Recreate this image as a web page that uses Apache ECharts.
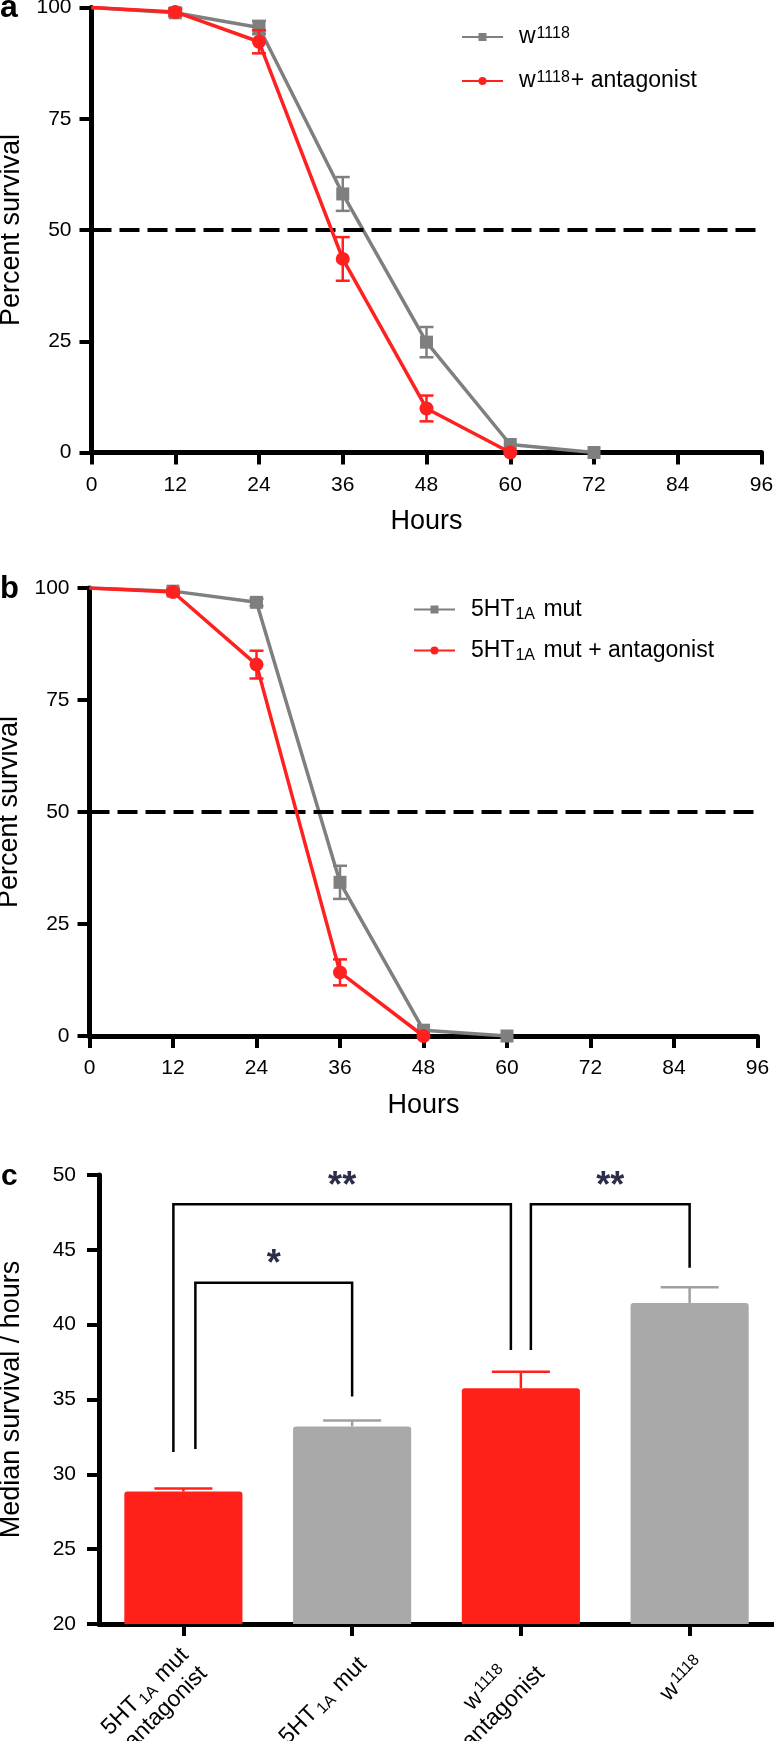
<!DOCTYPE html>
<html><head><meta charset="utf-8">
<script src="https://cdn.jsdelivr.net/npm/echarts@6/dist/echarts.min.js"></script>
<style>html,body{margin:0;padding:0;background:#fff}#c{width:774px;height:1741px}</style>
</head><body><div id="c"></div>
<script>
// ---------- DATA ----------
// Panel a
const hoursA_w = [0, 12, 24, 36, 48, 60, 72];
const survA_w = [100, 98.8, 95.5, 58.1, 24.8, 1.8, 0];
const errA_w = [0, 0.8, 1.5, 3.8, 3.4, 0, 0];
const hoursA_ant = [0, 12, 24, 36, 48, 60];
const survA_ant = [100, 99.0, 92.3, 43.5, 9.9, 0];
const errA_ant = [0, 0.8, 2.6, 4.9, 2.9, 0];
// Panel b
const hoursB_mut = [0, 12, 24, 36, 48, 60];
const survB_mut = [100, 99.3, 96.8, 34.3, 1.3, 0];
const errB_mut = [0, 0.5, 0.8, 3.7, 0, 0];
const hoursB_ant = [0, 12, 24, 36, 48];
const survB_ant = [100, 99.1, 82.9, 14.2, 0];
const errB_ant = [0, 0.5, 3.1, 2.9, 0];
// Panel c
const groupsC = ['5HT1A mut antagonist', '5HT1A mut', 'w1118 antagonist', 'w1118'];
const medianC = [28.85, 33.2, 35.75, 41.45];
const medianErrC = [0.2, 0.4, 1.1, 1.05];
// significance brackets: group indices, bracket top, leg ends, star label level
const sigFrom = [0, 2, 0];
const sigTo = [2, 3, 1];
const sigTop = [48.05, 48.05, 42.8];
const sigFromEnd = [31.5, 38.3, 31.7];
const sigToEnd = [38.3, 43.8, 35.2];
const sigLabelAt = [49.6, 49.6, 44.4];
const sigText = ['**', '**', '*'];
const refLine = 50;

// ---------- STYLE ----------
const FONT = '"Liberation Sans", Arial, sans-serif';
const GRAY = '#7f7f7f', RED = '#ff2020';
const BAR_COLORS = ['#ff2119', '#a9a9a9', '#ff2119', '#a9a9a9'];
const ERR_COLORS = ['#ff2119', '#a0a0a0', '#ff2119', '#a0a0a0'];
const STAR_COLOR = '#2b2d4a';
const legOffsetFrom = [-10, 10, 12];
const legOffsetTo = [-10, 0, 0];

const chart = echarts.init(document.getElementById('c'));

function pts(xs, ys) {
  return xs.map((x, i) => i === 0 ? { value: [x, ys[i]], symbol: 'none' } : { value: [x, ys[i]] });
}

function errSeries(xs, ys, es, color, gi, capHalf, onlyUp, z) {
  return {
    type: 'custom', xAxisIndex: gi, yAxisIndex: gi, silent: true, z: z,
    data: xs.map((x, i) => [x, ys[i], es[i]]),
    encode: { x: 0, y: 1 },
    renderItem: (params, api) => {
      const x = api.value(0), y = api.value(1), e = api.value(2);
      if (!e) return null;
      const c = Array.isArray(color) ? color[params.dataIndex] : color;
      const top = api.coord([x, y + e]);
      const bot = api.coord([x, onlyUp ? y : y - e]);
      const st = { stroke: c, lineWidth: 2.5 };
      const ch = [
        { type: 'line', shape: { x1: top[0], y1: top[1], x2: bot[0], y2: bot[1] }, style: st },
        { type: 'line', shape: { x1: top[0] - capHalf, y1: top[1], x2: top[0] + capHalf, y2: top[1] }, style: st }
      ];
      if (!onlyUp) ch.push({ type: 'line', shape: { x1: bot[0] - capHalf, y1: bot[1], x2: bot[0] + capHalf, y2: bot[1] }, style: st });
      return { type: 'group', children: ch };
    }
  };
}

const axisLineStyle = { color: '#000', width: 5 };
const tickStyle = { color: '#000', width: 4 };
const tickLabel = { color: '#000', fontSize: 21, fontFamily: FONT };
const nameStyle = { color: '#000', fontSize: 27, fontFamily: FONT };

function valX(gi) {
  return {
    type: 'value', gridIndex: gi, min: 0, max: 96, interval: 12,
    axisLine: { show: true, lineStyle: axisLineStyle },
    axisTick: { show: true, length: 12, lineStyle: tickStyle },
    axisLabel: Object.assign({ margin: 22 }, tickLabel),
    splitLine: { show: false },
    name: 'Hours', nameLocation: 'middle', nameGap: 56, nameTextStyle: nameStyle
  };
}
function valY(gi) {
  return {
    type: 'value', gridIndex: gi, min: 0, max: 100, interval: 25,
    axisLine: { show: true, lineStyle: axisLineStyle },
    axisTick: { show: true, length: 12, lineStyle: tickStyle },
    axisLabel: Object.assign({ margin: 20 }, tickLabel),
    splitLine: { show: false },
    name: 'Percent survival', nameLocation: 'middle', nameGap: 66, nameTextStyle: nameStyle
  };
}

function lineSeries(name, xs, ys, color, symbol, gi, z, withRef) {
  const s = {
    name: name, type: 'line', xAxisIndex: gi, yAxisIndex: gi, z: z,
    data: pts(xs, ys), symbol: symbol, symbolSize: symbol === 'rect' ? 13 : 14, showAllSymbol: true,
    lineStyle: { color: color, width: 3.5 }, itemStyle: { color: color },
    emphasis: { disabled: true }, animation: false
  };
  if (withRef) {
    s.markLine = {
      silent: true, symbol: 'none', label: { show: false },
      lineStyle: { color: '#000', width: 4, type: [20, 8] },
      data: [{ yAxis: refLine }]
    };
  }
  return s;
}

const richLegend = {
  n: { fontSize: 23, lineHeight: 26, fontFamily: FONT, color: '#000', verticalAlign: 'middle' },
  sup: { fontSize: 16, lineHeight: 16, fontFamily: FONT, color: '#000', verticalAlign: 'top', padding: [2, 1, 0, 1] },
  sub: { fontSize: 16, lineHeight: 16, fontFamily: FONT, color: '#000', verticalAlign: 'bottom', padding: [0, 2, 0, 1] }
};
function legendFmt(name) {
  return name
    .replace(/^w1118/, '{n|w}{sup|1118}')
    .replace(/^5HT1A/, '{n|5HT}{sub|1A}')
    .replace(/\}([^{}]+)$/, '}{n|$1}');
}
function mkLegend(name, left, top) {
  return {
    data: [name], left: left, top: top, padding: 0, itemGap: 0,
    itemWidth: 41, itemHeight: 10, selectedMode: false,
    formatter: legendFmt,
    textStyle: { rich: richLegend, padding: [0, 0, 0, 11] }
  };
}

const richCat = {
  n: { fontSize: 23, lineHeight: 26, fontFamily: FONT, color: '#000' },
  sub: { fontSize: 16, lineHeight: 15, fontFamily: FONT, color: '#000', verticalAlign: 'bottom', padding: [0, 2, 0, 3] },
  sup: { fontSize: 16, lineHeight: 15, fontFamily: FONT, color: '#000', verticalAlign: 'top', padding: [0, 0, 0, 2] },
  supPad: { fontSize: 16, lineHeight: 15, fontFamily: FONT, color: '#000', verticalAlign: 'top', padding: [0, 26, 0, 2] }
};
function catFmt(v) {
  const parts = v.split(' ');
  const two = parts.length > 1 && parts[parts.length - 1] === 'antagonist';
  let first = two ? parts.slice(0, -1).join(' ') : v;
  let out;
  if (first.startsWith('5HT1A')) out = '{n|5HT}{sub|1A}{n|' + first.slice(5) + '}';
  else out = '{n|w}{' + (two ? 'supPad' : 'sup') + '|' + first.slice(1) + '}';
  if (two) out += '\n{n|antagonist}';
  return out;
}

const option = {
  backgroundColor: '#fff',
  animation: false,
  textStyle: { fontFamily: FONT },
  grid: [
    { left: 91.5, right: 12.5, top: 7.5, height: 445, outerBoundsMode: 'none', containLabel: false },
    { left: 89.5, right: 16.5, top: 588, height: 448, outerBoundsMode: 'none', containLabel: false },
    { left: 99, right: 0, top: 1175, height: 449, outerBoundsMode: 'none', containLabel: false }
  ],
  xAxis: [
    valX(0), valX(1),
    {
      type: 'category', gridIndex: 2, data: groupsC,
      axisLine: { show: true, lineStyle: axisLineStyle },
      axisTick: { show: true, alignWithLabel: true, length: 12, lineStyle: tickStyle },
      axisLabel: { rotate: 45, margin: 26, interval: 0, padding: [31, 0, 0, 0], formatter: catFmt, rich: richCat, color: '#000' }
    }
  ],
  yAxis: [
    valY(0), valY(1),
    {
      type: 'value', gridIndex: 2, min: 20, max: 50, interval: 5,
      axisLine: { show: true, lineStyle: axisLineStyle },
      axisTick: { show: true, length: 12, lineStyle: tickStyle },
      axisLabel: { margin: 23, color: '#000', fontSize: 21, fontFamily: FONT },
      splitLine: { show: false },
      name: 'Median survival / hours', nameLocation: 'middle', nameGap: 74, nameTextStyle: nameStyle
    }
  ],
  legend: [
    mkLegend('w1118', 461, 24),
    mkLegend('w1118+ antagonist', 461, 68),
    mkLegend('5HT1A mut', 413, 598),
    mkLegend('5HT1A mut + antagonist', 413, 639)
  ],
  graphic: [
    { type: 'text', left: 0, top: -8, style: { text: 'a', font: 'bold 32px ' + FONT, fill: '#000' } },
    { type: 'text', left: 0, top: 574, style: { text: 'b', font: 'bold 31px ' + FONT, fill: '#000' } },
    { type: 'text', left: 1, top: 1162, style: { text: 'c', font: 'bold 30px ' + FONT, fill: '#000' } }
  ],
  series: [
    errSeries(hoursA_w, survA_w, errA_w, GRAY, 0, 7, false, 3),
    lineSeries('w1118', hoursA_w, survA_w, GRAY, 'rect', 0, 4, true),
    errSeries(hoursA_ant, survA_ant, errA_ant, RED, 0, 7, false, 5),
    lineSeries('w1118+ antagonist', hoursA_ant, survA_ant, RED, 'circle', 0, 6, false),

    errSeries(hoursB_mut, survB_mut, errB_mut, GRAY, 1, 7, false, 3),
    lineSeries('5HT1A mut', hoursB_mut, survB_mut, GRAY, 'rect', 1, 4, true),
    errSeries(hoursB_ant, survB_ant, errB_ant, RED, 1, 7, false, 5),
    lineSeries('5HT1A mut + antagonist', hoursB_ant, survB_ant, RED, 'circle', 1, 6, false),

    {
      type: 'bar', xAxisIndex: 2, yAxisIndex: 2, barWidth: '70%', z: 3,
      data: medianC.map((v, i) => ({ value: v, itemStyle: { color: BAR_COLORS[i], borderRadius: [3, 3, 0, 0] } })),
      emphasis: { disabled: true }
    },
    errSeries(groupsC.map((g, i) => i), medianC, medianErrC, ERR_COLORS, 2, 29, true, 2),
    {
      type: 'custom', xAxisIndex: 2, yAxisIndex: 2, silent: true, z: 6,
      data: sigFrom.map((f, i) => [f, sigTop[i], sigTo[i], sigFromEnd[i], sigToEnd[i], sigLabelAt[i]]),
      encode: { x: 0, y: 1 },
      renderItem: (params, api) => {
        const i = params.dataIndex;
        const f = api.value(0), top = api.value(1), t = api.value(2), fe = api.value(3), te = api.value(4), la = api.value(5);
        const pTopL = api.coord([f, top]), pTopR = api.coord([t, top]);
        const pFe = api.coord([f, fe]), pTe = api.coord([t, te]);
        const pLab = api.coord([f, la]);
        const xl = pTopL[0] + legOffsetFrom[i], xr = pTopR[0] + legOffsetTo[i];
        const st = { stroke: '#000', lineWidth: 2.5, fill: null };
        return {
          type: 'group', children: [
            { type: 'polyline', shape: { points: [[xl, pFe[1]], [xl, pTopL[1]], [xr, pTopR[1]], [xr, pTe[1]]] }, style: st },
            { type: 'text', style: { x: (xl + xr) / 2, y: pLab[1] + 6, text: sigText[i], fill: STAR_COLOR, font: 'bold 36px ' + FONT, align: 'center', verticalAlign: 'middle' } }
          ]
        };
      }
    }
  ]
};
chart.setOption(option);
</script>
</body></html>
